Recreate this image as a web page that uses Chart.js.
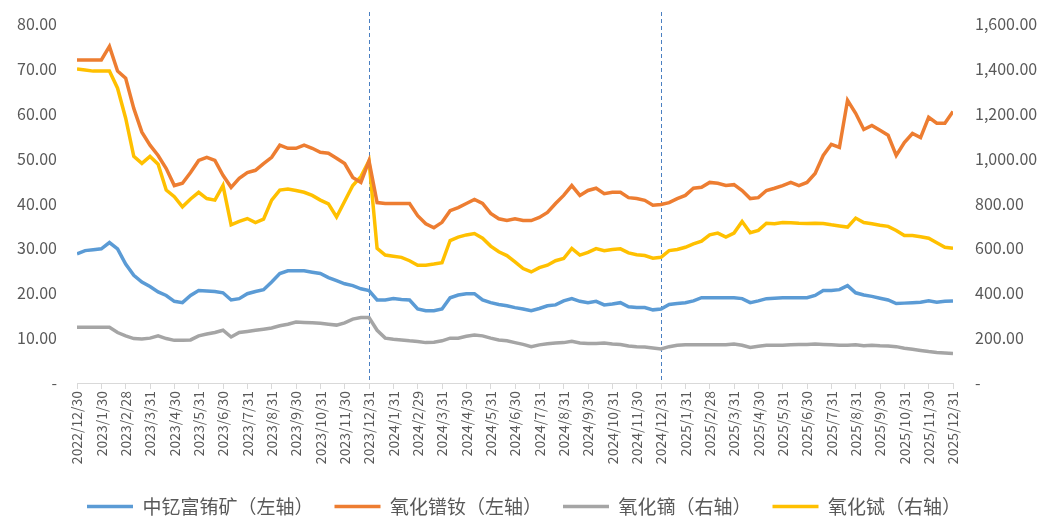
<!DOCTYPE html>
<html>
<head>
<meta charset="utf-8">
<script src="https://cdn.jsdelivr.net/npm/chart.js@4.4.1/dist/chart.umd.min.js"></script>
<style>
  html, body { margin: 0; padding: 0; background: #fff; }
  #wrap { width: 1048px; height: 521px; }
</style>
</head>
<body>
<div id="wrap"><canvas id="price-chart"></canvas></div>
<script>
// month-end axis labels, 2022/12/30 .. 2025/12/31
const monthLabels = [
  '2022/12/30',
  '2023/1/30', '2023/2/28', '2023/3/31', '2023/4/30', '2023/5/31', '2023/6/30',
  '2023/7/31', '2023/8/31', '2023/9/30', '2023/10/31', '2023/11/30', '2023/12/31',
  '2024/1/31', '2024/2/29', '2024/3/31', '2024/4/30', '2024/5/31', '2024/6/30',
  '2024/7/31', '2024/8/31', '2024/9/30', '2024/10/31', '2024/11/30', '2024/12/31',
  '2025/1/31', '2025/2/28', '2025/3/31', '2025/4/30', '2025/5/31', '2025/6/30',
  '2025/7/31', '2025/8/31', '2025/9/30', '2025/10/31', '2025/11/30', '2025/12/31'
];

// year-end markers (month index)
const yearBreaks = [12, 24];

const seriesNames = ['中钇富铕矿（左轴）', '氧化镨钕（左轴）', '氧化镝（右轴）', '氧化铽（右轴）'];

// three readings per month (~10th, ~20th, month end), first one on 2022/12/30
const euOre = [
  28.8, 29.5, 29.7, 29.9, 31.3, 29.9, 26.5, 24.0, 22.5, 21.5,
  20.3, 19.5, 18.2, 17.9, 19.5, 20.6, 20.5, 20.4, 20.1, 18.5,
  18.8, 19.9, 20.4, 20.8, 22.5, 24.4, 25.0, 25.0, 25.0, 24.7,
  24.4, 23.5, 22.8, 22.1, 21.7, 21.0, 20.6, 18.5, 18.5, 18.8,
  18.6, 18.5, 16.5, 16.1, 16.1, 16.5, 19.0, 19.6, 19.9, 19.9,
  18.5, 17.9, 17.5, 17.2, 16.8, 16.5, 16.1, 16.6, 17.2, 17.4,
  18.3, 18.8, 18.2, 17.9, 18.2, 17.4, 17.6, 17.9, 17.0, 16.8,
  16.8, 16.3, 16.5, 17.5, 17.7, 17.9, 18.3, 19.0, 19.0, 19.0,
  19.0, 19.0, 18.8, 17.9, 18.3, 18.8, 18.9, 19.0, 19.0, 19.0,
  19.0, 19.5, 20.6, 20.6, 20.8, 21.7, 20.1, 19.6, 19.3, 18.9,
  18.5, 17.7, 17.8, 17.9, 18.0, 18.3, 18.0, 18.2, 18.3
];

const prNdOxide = [
  72.0, 72.0, 72.0, 72.0, 75.0, 69.5, 67.9, 61.2, 55.9, 53.0,
  50.7, 47.8, 44.0, 44.5, 46.9, 49.6, 50.3, 49.6, 46.3, 43.6,
  45.6, 46.9, 47.4, 48.9, 50.3, 53.0, 52.3, 52.3, 53.0, 52.3,
  51.4, 51.2, 50.1, 48.9, 45.8, 44.7, 49.5, 40.2, 40.0, 40.0,
  40.0, 40.0, 37.3, 35.5, 34.6, 35.8, 38.4, 39.1, 40.0, 40.9,
  40.0, 37.8, 36.6, 36.2, 36.6, 36.2, 36.2, 36.9, 38.0, 40.0,
  41.8, 44.0, 41.8, 42.9, 43.4, 42.2, 42.5, 42.5, 41.3, 41.1,
  40.7, 39.6, 39.8, 40.2, 41.1, 41.8, 43.4, 43.6, 44.7, 44.5,
  44.0, 44.2, 42.9, 41.1, 41.3, 42.9, 43.4, 44.0, 44.7, 44.0,
  44.7, 46.7, 50.7, 53.2, 52.5, 63.0, 60.1, 56.5, 57.4, 56.3,
  55.2, 50.7, 53.6, 55.6, 54.7, 59.2, 57.9, 57.9, 60.5
];

const dyOxide = [
  248, 248, 248, 248, 248, 225, 210, 198, 196, 200,
  210, 198, 190, 190, 192, 210, 218, 225, 235, 205,
  225, 230, 235, 240, 245, 255, 262, 272, 270, 268,
  266, 262, 258, 268, 285, 292, 292, 235, 200, 195,
  192, 188, 185, 180, 182, 188, 200, 200, 208, 214,
  210, 200, 192, 188, 180, 172, 162, 170, 175, 178,
  180, 186, 178, 176, 176, 178, 174, 172, 165, 162,
  160, 156, 152, 162, 168, 170, 170, 170, 170, 170,
  170, 174, 168, 158, 164, 168, 168, 168, 170, 172,
  172, 174, 172, 170, 168, 168, 170, 166, 168, 166,
  165, 162, 155, 150, 145, 140, 136, 134, 132
];

const tbOxide = [
  1400, 1395, 1390, 1390, 1390, 1314, 1180, 1010, 979, 1010,
  975, 860, 830, 785, 820, 850, 822, 815, 880, 705,
  720, 733, 715, 730, 815, 860, 865, 858, 850, 836,
  815, 798, 740, 810, 880, 920, 990, 600, 570, 565,
  560, 545, 525, 525, 530, 536, 635, 650, 660, 666,
  645, 610, 585, 568, 540, 510, 495, 514, 525, 545,
  555, 600, 570, 582, 599, 590, 595, 598, 580, 572,
  568, 556, 560, 590, 595, 605, 620, 632, 660, 668,
  650, 668, 720, 670, 680, 712, 710, 715, 714, 712,
  711, 712, 711, 705, 700, 695, 735, 715, 710, 703,
  698, 680, 657, 657, 652, 645, 625, 605, 600
];

const colors = {
  blue: '#5b9bd5',
  orange: '#ed7d31',
  grey: '#a5a5a5',
  yellow: '#ffc000'
};

const FONT = '"Noto Sans CJK SC", "Noto Sans", sans-serif';
const TEXT = '#595959';

const toPoints = arr => arr.map((v, i) => ({ x: i / 3, y: v }));

function makeSet(label, data, color, axis) {
  return {
    label: label,
    data: toPoints(data),
    yAxisID: axis,
    borderColor: color,
    backgroundColor: color,
    borderWidth: 3.5,
    pointRadius: 0,
    tension: 0
  };
}

// blue dashed verticals at each year end
const dividerLines = {
  id: 'dividerLines',
  beforeDatasetsDraw(chart) {
    const { ctx, chartArea, scales } = chart;
    ctx.save();
    ctx.strokeStyle = '#4a7fc1';
    ctx.lineWidth = 1;
    ctx.setLineDash([4, 3]);
    yearBreaks.forEach(m => {
      const x = Math.round(scales.x.getPixelForValue(m)) + 0.5;
      ctx.beginPath();
      ctx.moveTo(x, chartArea.top - 12);
      ctx.lineTo(x, chartArea.bottom);
      ctx.stroke();
    });
    ctx.restore();
  }
};

// invisible tick marks push the y labels away from the plot
// without padding the top of the chart area
const hiddenTicks = len => ({
  display: true,
  drawOnChartArea: false,
  drawTicks: true,
  tickLength: len,
  color: 'rgba(0,0,0,0)'
});

const ctx = document.getElementById('price-chart').getContext('2d');

new Chart(ctx, {
  type: 'line',
  data: {
    datasets: [
      makeSet(seriesNames[0], euOre, colors.blue, 'yLeft'),
      makeSet(seriesNames[1], prNdOxide, colors.orange, 'yLeft'),
      makeSet(seriesNames[2], dyOxide, colors.grey, 'yRight'),
      makeSet(seriesNames[3], tbOxide, colors.yellow, 'yRight')
    ]
  },
  options: {
    responsive: true,
    maintainAspectRatio: false,
    animation: false,
    layout: { padding: { top: 24, left: 0, right: 0, bottom: -5 } },
    scales: {
      x: {
        type: 'linear',
        min: 0,
        max: monthLabels.length - 1,
        afterBuildTicks: axis => {
          axis.ticks = monthLabels.map((_, i) => ({ value: i }));
        },
        afterFit: axis => { axis.height = 93; },
        ticks: {
          autoSkip: false,
          minRotation: 90,
          maxRotation: 90,
          padding: 2,
          color: TEXT,
          font: { size: 14, family: FONT },
          callback: v => monthLabels[v]
        },
        grid: { drawOnChartArea: false, tickLength: 6, color: '#d9d9d9' },
        border: { color: '#d9d9d9' }
      },
      yLeft: {
        position: 'left',
        min: 0,
        max: 80,
        afterFit: axis => { axis.width = 77; },
        ticks: {
          stepSize: 10,
          padding: 2,
          color: TEXT,
          font: { size: 16, family: FONT },
          callback: v => v === 0 ? '-' : v.toFixed(2)
        },
        grid: hiddenTicks(18),
        border: { display: false }
      },
      yRight: {
        position: 'right',
        min: 0,
        max: 1600,
        afterFit: axis => { axis.width = 95; },
        ticks: {
          stepSize: 200,
          padding: 2,
          color: TEXT,
          font: { size: 16, family: FONT },
          callback: v => v === 0 ? '-' : v.toLocaleString('en-US', { minimumFractionDigits: 2, maximumFractionDigits: 2 })
        },
        grid: hiddenTicks(20),
        border: { display: false }
      }
    },
    plugins: {
      legend: {
        position: 'bottom',
        labels: {
          usePointStyle: true,
          pointStyle: 'line',
          pointStyleWidth: 46,
          padding: 21,
          color: TEXT,
          font: { size: 19, family: FONT }
        }
      },
      tooltip: { enabled: false }
    }
  },
  plugins: [dividerLines]
});
</script>
</body>
</html>
